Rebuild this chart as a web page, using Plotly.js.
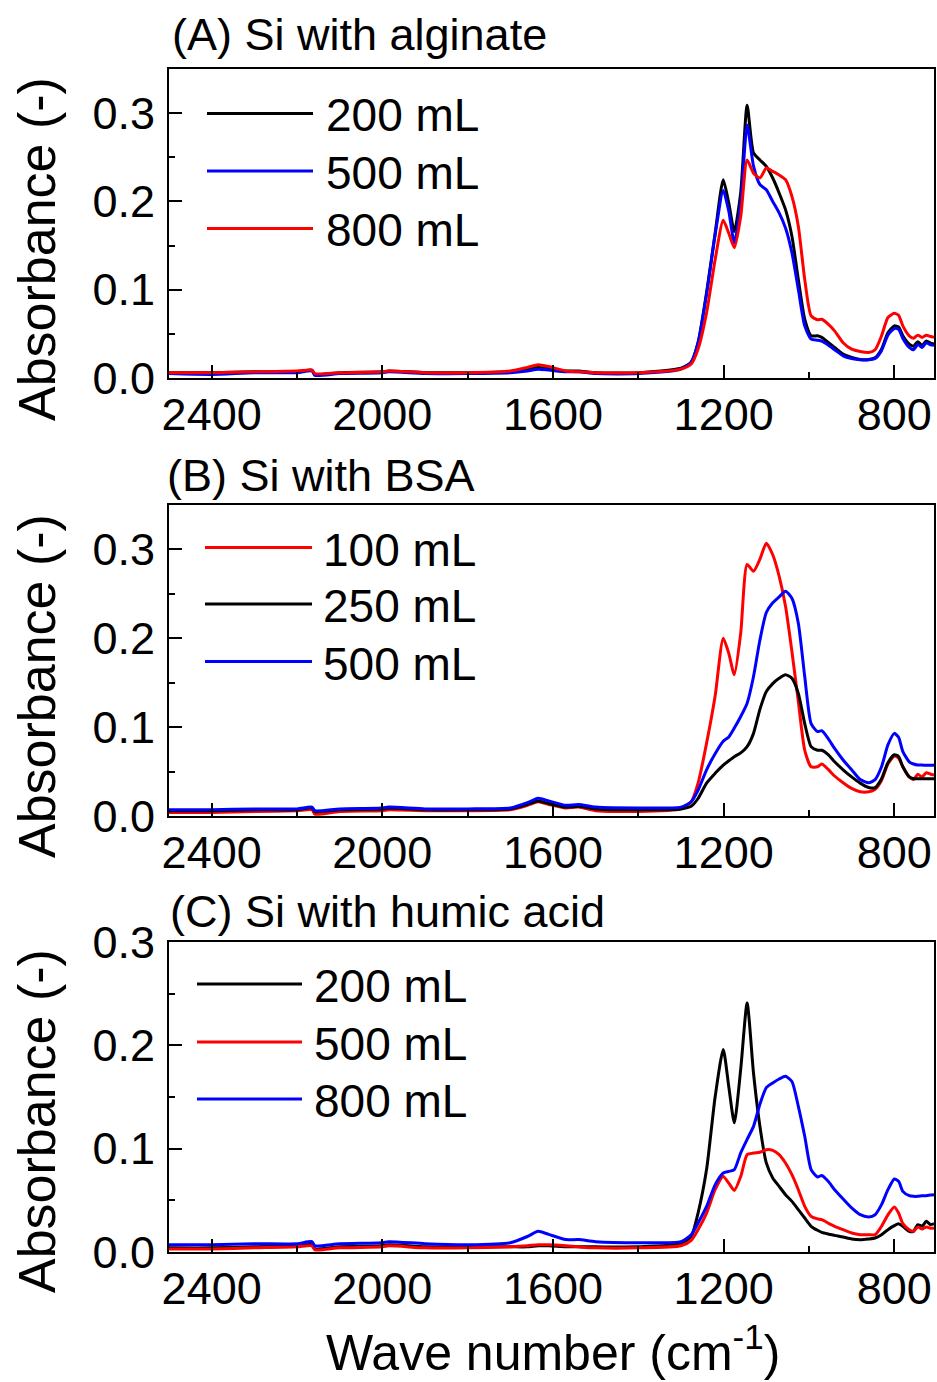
<!DOCTYPE html>
<html>
<head>
<meta charset="utf-8">
<script src="https://cdn.plot.ly/plotly-3.0.1.min.js"></script>
<style>html,body{margin:0;padding:0;background:#fff;}#chart{width:937px;height:1382px;}</style>
</head>
<body>
<div id="chart"></div>
<script>
// ---- data ----
const wnBase = [2500, 2400, 2300, 2200, 2165, 2158, 2100, 2000, 1985, 1900, 1800, 1700, 1660, 1635, 1610, 1570, 1540, 1500, 1400, 1300];
const wnPeak = [1276, 1260, 1240, 1220, 1201, 1188, 1175, 1160, 1145, 1130, 1115, 1100, 1085, 1070, 1055, 1040, 1025, 1010, 995, 980, 970, 955, 940, 920, 900, 880, 860, 845, 830, 815, 800, 790, 780, 765, 755, 745, 735, 725, 715, 707];

// (A) Si with alginate
const namesA = ['200 mL', '500 mL', '800 mL'];
const a200 = [0.006, 0.006, 0.007, 0.007, 0.009, 0.004, 0.006, 0.007, 0.008, 0.006, 0.006, 0.007, 0.010, 0.012, 0.011, 0.008, 0.008, 0.006, 0.006, 0.011,
  0.018, 0.040, 0.097, 0.164, 0.2246, 0.198, 0.166, 0.21, 0.309, 0.255, 0.247, 0.2397, 0.2265, 0.2096, 0.1907, 0.1606, 0.1117, 0.0666, 0.0478, 0.0478, 0.046, 0.0403, 0.0346, 0.027, 0.0233, 0.021, 0.021, 0.023, 0.0327, 0.0512, 0.059, 0.0578, 0.0478, 0.0384, 0.036, 0.041, 0.037, 0.042, 0.0395, 0.0384];
const a500 = [0.005, 0.004, 0.006, 0.006, 0.008, 0.003, 0.005, 0.006, 0.007, 0.005, 0.005, 0.006, 0.008, 0.010, 0.009, 0.007, 0.007, 0.005, 0.005, 0.010,
  0.018, 0.040, 0.095, 0.162, 0.2125, 0.189, 0.153, 0.198, 0.2867, 0.24, 0.219, 0.2133, 0.200, 0.187, 0.170, 0.1419, 0.1004, 0.059, 0.044, 0.0428, 0.0417, 0.0373, 0.032, 0.025, 0.022, 0.0206, 0.0206, 0.022, 0.031, 0.0486, 0.056, 0.0552, 0.0448, 0.0346, 0.032, 0.038, 0.0346, 0.040, 0.0375, 0.037];
const a800 = [0.006, 0.006, 0.007, 0.008, 0.009, 0.005, 0.006, 0.007, 0.008, 0.006, 0.006, 0.008, 0.012, 0.015, 0.013, 0.008, 0.007, 0.006, 0.006, 0.010,
  0.0158, 0.0327, 0.074, 0.134, 0.1787, 0.164, 0.1475, 0.183, 0.247, 0.232, 0.2265, 0.2378, 0.234, 0.230, 0.2246, 0.2057, 0.172, 0.1117, 0.0703, 0.066, 0.0665, 0.061, 0.0534, 0.040, 0.0327, 0.030, 0.029, 0.032, 0.0477, 0.0685, 0.0733, 0.071, 0.059, 0.0477, 0.045, 0.0485, 0.046, 0.0485, 0.047, 0.046];

// (B) Si with BSA
const namesB = ['100 mL', '250 mL', '500 mL'];
const b100 = [0.004, 0.004, 0.005, 0.006, 0.007, 0.002, 0.005, 0.006, 0.007, 0.006, 0.006, 0.007, 0.012, 0.016, 0.013, 0.009, 0.010, 0.006, 0.005, 0.008,
  0.016, 0.037, 0.082, 0.135, 0.200, 0.183, 0.159, 0.206, 0.283, 0.2755, 0.289, 0.307, 0.294, 0.270, 0.236, 0.185, 0.129, 0.074, 0.0554, 0.0554, 0.0585, 0.0524, 0.045, 0.0374, 0.031, 0.0272, 0.0272, 0.030, 0.040, 0.0585, 0.0675, 0.065, 0.0554, 0.044, 0.041, 0.047, 0.044, 0.0487, 0.047, 0.046];
const b250 = [0.006, 0.006, 0.007, 0.007, 0.009, 0.005, 0.007, 0.008, 0.009, 0.007, 0.007, 0.008, 0.013, 0.017, 0.014, 0.010, 0.011, 0.008, 0.007, 0.008,
  0.011, 0.0197, 0.037, 0.048, 0.0573, 0.0622, 0.0668, 0.071, 0.078, 0.093, 0.120, 0.140, 0.149, 0.155, 0.159, 0.155, 0.138, 0.104, 0.078, 0.074, 0.074, 0.069, 0.061, 0.052, 0.044, 0.037, 0.032, 0.032, 0.042, 0.060, 0.069, 0.067, 0.0554, 0.044, 0.042, 0.042, 0.042, 0.042, 0.042, 0.042];
const b500 = [0.007, 0.007, 0.008, 0.008, 0.010, 0.006, 0.008, 0.009, 0.010, 0.008, 0.008, 0.009, 0.015, 0.020, 0.017, 0.012, 0.013, 0.010, 0.009, 0.010,
  0.016, 0.029, 0.052, 0.070, 0.084, 0.089, 0.099, 0.112, 0.127, 0.157, 0.198, 0.229, 0.240, 0.2465, 0.253, 0.245, 0.217, 0.157, 0.104, 0.095, 0.096, 0.087, 0.076, 0.063, 0.052, 0.041, 0.0374, 0.041, 0.0554, 0.080, 0.093, 0.0886, 0.0724, 0.061, 0.0585, 0.0573, 0.0573, 0.057, 0.057, 0.057];

// (C) Si with humic acid
const namesC = ['200 mL', '500 mL', '800 mL'];
const c200 = [0.004, 0.004, 0.005, 0.006, 0.007, 0.003, 0.005, 0.006, 0.007, 0.005, 0.005, 0.005, 0.005, 0.006, 0.006, 0.005, 0.005, 0.005, 0.005, 0.008,
  0.015, 0.0377, 0.080, 0.150, 0.196, 0.160, 0.125, 0.177, 0.241, 0.173, 0.1216, 0.0862, 0.0716, 0.0635, 0.0555, 0.049, 0.041, 0.0329, 0.0249, 0.021, 0.019, 0.0174, 0.0161, 0.0145, 0.0126, 0.0119, 0.0126, 0.0135, 0.0167, 0.0216, 0.0255, 0.0274, 0.0249, 0.020, 0.020, 0.0265, 0.0249, 0.0297, 0.0265, 0.0274];
const c500 = [0.003, 0.003, 0.004, 0.005, 0.006, 0.002, 0.004, 0.005, 0.006, 0.004, 0.004, 0.005, 0.006, 0.007, 0.007, 0.006, 0.005, 0.004, 0.004, 0.006,
  0.0113, 0.0216, 0.0377, 0.0603, 0.073, 0.0667, 0.0596, 0.073, 0.0942, 0.0958, 0.0965, 0.099, 0.0984, 0.0942, 0.0861, 0.0748, 0.0603, 0.0442, 0.0345, 0.032, 0.0313, 0.028, 0.0249, 0.0216, 0.0184, 0.0168, 0.0168, 0.0168, 0.0249, 0.036, 0.0436, 0.0377, 0.0274, 0.0216, 0.020, 0.0242, 0.0223, 0.0242, 0.023, 0.0232];
const c800 = [0.007, 0.007, 0.008, 0.008, 0.010, 0.006, 0.008, 0.009, 0.010, 0.008, 0.007, 0.009, 0.015, 0.020, 0.017, 0.012, 0.012, 0.010, 0.009, 0.010,
  0.0167, 0.028, 0.0442, 0.065, 0.0765, 0.078, 0.0797, 0.096, 0.109, 0.1216, 0.143, 0.159, 0.1636, 0.1674, 0.170, 0.165, 0.141, 0.112, 0.0797, 0.0726, 0.074, 0.0684, 0.0603, 0.0513, 0.0426, 0.0361, 0.0339, 0.0361, 0.0458, 0.0603, 0.0707, 0.0684, 0.0587, 0.0545, 0.0539, 0.0539, 0.0545, 0.0545, 0.0552, 0.0555];

const panelTitles = ['(A) Si with alginate', '(B) Si with BSA', '(C) Si with humic acid'];
const xTitle = 'Wave number (cm<sup>-1</sup>)';
const yTitle = 'Absorbance (-)';
const xRange = [2500, 707];
const yMax = [0.35, 0.35, 0.3];

// ---- layout helpers (pixel geometry of the figure) ----
const FONT = 'Arial, "Liberation Sans", sans-serif';
const W = 937, H = 1382;
const L = 169, R = 934, T = 69, B = 1252;
const px = x => (x - L) / (R - L);
const py = y => (B - y) / (B - T);

const wn = wnBase.concat(wnPeak);
const BLACK = '#000000', BLUE = '#0000ff', RED = '#ff0000';

const panels = [
  { series: [a200, a500, a800], names: namesA, colors: [BLACK, BLUE, RED], top: 69, bottom: 378,
    leg: { x0: 207, x1: 313, tx: 324, ys: [113.5, 171, 228.5] }, title: { x: 170, y: 34 }, ytitleY: 249 },
  { series: [b100, b250, b500], names: namesB, colors: [RED, BLACK, BLUE], top: 505, bottom: 816,
    leg: { x0: 205, x1: 312, tx: 321, ys: [547.5, 604, 661.5] }, title: { x: 165, y: 475 }, ytitleY: 686 },
  { series: [c200, c500, c800], names: namesC, colors: [BLACK, RED, BLUE], top: 942, bottom: 1252,
    leg: { x0: 197, x1: 302, tx: 312, ys: [984, 1042, 1099] }, title: { x: 168, y: 912 }, ytitleY: 1121 }
];

const traces = [];
const shapes = [];
const annotations = [];
const layout = {
  width: W, height: H,
  margin: { l: L, r: W - R, t: T, b: H - B, pad: 0 },
  paper_bgcolor: '#fff', plot_bgcolor: '#fff',
  showlegend: false,
  font: { family: FONT, color: '#000' }
};

panels.forEach((p, i) => {
  const n = i + 1;
  const xs = n === 1 ? '' : String(n);
  const xid = 'x' + xs, yid = 'y' + xs;
  p.series.forEach((s, k) => {
    traces.push({
      x: wn, y: s, xaxis: xid, yaxis: yid, type: 'scatter', mode: 'lines',
      name: p.names[k], line: { color: p.colors[k], width: 3, shape: 'spline', smoothing: 0.6 },
      hoverinfo: 'skip'
    });
  });
  const dom = [py(p.bottom), py(p.top)];
  layout['xaxis' + xs] = {
    range: xRange, anchor: yid, showgrid: false, zeroline: false,
    showline: true, mirror: true, linecolor: '#000', linewidth: 2,
    ticks: 'inside', ticklen: 13, tickwidth: 2, tickcolor: '#000',
    tick0: 0, dtick: 400, ticklabelstandoff: -4,
    minor: { ticks: 'inside', ticklen: 6, tickwidth: 2, tickcolor: '#000', dtick: 200, tick0: 0, showgrid: false },
    tickfont: { family: FONT, size: 45, color: '#000' }
  };
  layout['yaxis' + xs] = {
    domain: dom, range: [0, yMax[i]], anchor: xid, showgrid: false, zeroline: false,
    showline: true, mirror: true, linecolor: '#000', linewidth: 2,
    ticks: 'inside', ticklen: 13, tickwidth: 2, tickcolor: '#000',
    tick0: 0, dtick: 0.1, tickformat: '.1f', ticklabelstandoff: 3,
    minor: { ticks: 'inside', ticklen: 6, tickwidth: 2, tickcolor: '#000', dtick: 0.05, tick0: 0, showgrid: false },
    tickfont: { family: FONT, size: 45, color: '#000' }
  };
  // short ticks on top and right edges
  const tn = n + 3;
  layout['xaxis' + tn] = {
    range: xRange, overlaying: xid, anchor: yid, side: 'top', showgrid: false, zeroline: false,
    showline: false, ticks: 'inside', ticklen: 5, tickwidth: 2, tickcolor: '#000',
    tick0: 0, dtick: 200, showticklabels: false, fixedrange: true
  };
  layout['yaxis' + tn] = {
    range: [0, yMax[i]], overlaying: yid, anchor: xid, side: 'right', showgrid: false, zeroline: false,
    showline: false, ticks: 'inside', ticklen: 5, tickwidth: 2, tickcolor: '#000',
    tick0: 0, dtick: 0.05, showticklabels: false, fixedrange: true
  };
  // legend drawn by hand (long sample lines)
  p.names.forEach((nm, k) => {
    shapes.push({ type: 'line', xref: 'paper', yref: 'paper',
      x0: px(p.leg.x0), x1: px(p.leg.x1), y0: py(p.leg.ys[k]), y1: py(p.leg.ys[k]),
      line: { color: p.colors[k], width: 3 } });
    annotations.push({ xref: 'paper', yref: 'paper', x: px(p.leg.tx), y: py(p.leg.ys[k] + 2),
      xanchor: 'left', yanchor: 'middle', showarrow: false, text: nm,
      font: { family: FONT, size: 46, color: '#000' } });
  });
  annotations.push({ xref: 'paper', yref: 'paper', x: px(p.title.x), y: py(p.title.y),
    xanchor: 'left', yanchor: 'middle', showarrow: false, text: panelTitles[i],
    font: { family: FONT, size: 45, color: '#000' } });
  annotations.push({ xref: 'paper', yref: 'paper', x: px(37), y: py(p.ytitleY),
    xanchor: 'center', yanchor: 'middle', showarrow: false, text: yTitle, textangle: -90,
    font: { family: FONT, size: 52, color: '#000' } });
});

annotations.push({ xref: 'paper', yref: 'paper', x: px(553), y: py(1349),
  xanchor: 'center', yanchor: 'middle', showarrow: false, text: xTitle,
  font: { family: FONT, size: 50, color: '#000' } });

layout.shapes = shapes;
layout.annotations = annotations;

Plotly.newPlot('chart', traces, layout, { staticPlot: true, displayModeBar: false });
</script>
</body>
</html>
